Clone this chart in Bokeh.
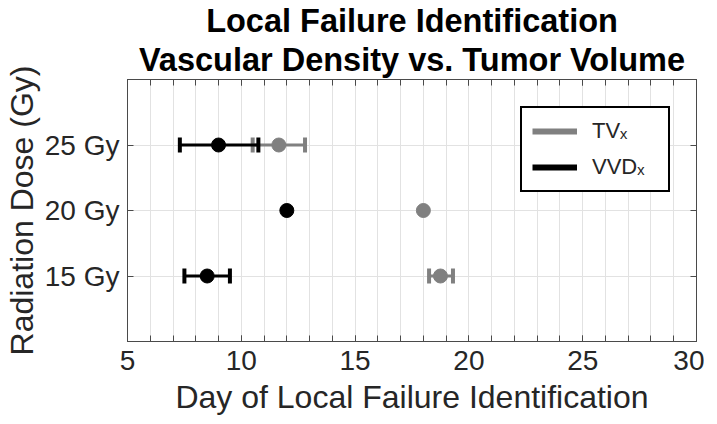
from bokeh.plotting import figure
from bokeh.models import (Range1d, FixedTicker, LinearAxis, Whisker, ColumnDataSource,
                          Legend, LegendItem, TeeHead, Title)
from bokeh.embed import file_html
from bokeh.resources import INLINE

# ---- data ----
doses = ["15 Gy", "20 Gy", "25 Gy"]
dose_pos = [1, 2, 3]
tv_mean = [18.75, 18.0, 11.65]
tv_low = [18.25, None, 10.5]
tv_high = [19.3, None, 12.8]
vvd_mean = [8.5, 12.0, 9.0]
vvd_low = [7.5, None, 7.3]
vvd_high = [9.5, None, 10.75]
x_major_ticks = [5, 10, 15, 20, 25, 30]
x_minor_ticks = list(range(5, 31))
title_lines = ["Local Failure Identification", "Vascular Density vs. Tumor Volume"]

FONT = "Liberation Sans"
TXT = "#262626"
AX = "#4a4a4a"
GRID = "#e2e2e2"
GRAY = "#808080"
BLACK = "#000000"
NAN = float("nan")


def rows(low, high):
    keep = [i for i in range(len(low)) if low[i] is not None]
    return dict(pos=[dose_pos[i] for i in keep], low=[low[i] for i in keep],
                high=[high[i] for i in keep])


p = figure(frame_width=569, frame_height=262, x_range=Range1d(5, 30), y_range=Range1d(0, 4),
           output_backend="svg", toolbar_location=None, title=None,
           min_border_left=119, min_border_right=8, min_border_top=72, min_border_bottom=0)

p.outline_line_color = AX
p.outline_line_width = 1
p.outline_line_alpha = 1
p.background_fill_color = "white"
p.border_fill_color = "white"

xt = FixedTicker(ticks=x_major_ticks, minor_ticks=x_minor_ticks)
yt = FixedTicker(ticks=dose_pos, minor_ticks=[])

xa = p.xaxis[0]
xa.ticker = xt
xa.axis_label = "Day of Local Failure Identification"
xa.axis_label_text_font = FONT
xa.axis_label_text_font_size = "32px"
xa.axis_label_text_font_style = "normal"
xa.axis_label_text_color = TXT
xa.axis_label_standoff = 6
xa.major_label_text_font = FONT
xa.major_label_text_font_size = "28px"
xa.major_label_text_color = TXT
xa.major_label_standoff = 9
xa.axis_line_color = AX
xa.major_tick_line_color = AX
xa.minor_tick_line_color = AX
xa.major_tick_in = 6
xa.major_tick_out = 0
xa.minor_tick_in = 6
xa.minor_tick_out = 0

ya = p.yaxis[0]
ya.ticker = yt
ya.major_label_overrides = {k: v for k, v in zip(dose_pos, doses)}
ya.axis_label = "Radiation Dose (Gy)"
ya.axis_label_text_font = FONT
ya.axis_label_text_font_size = "32px"
ya.axis_label_text_font_style = "normal"
ya.axis_label_text_color = TXT
ya.axis_label_standoff = 2
ya.major_label_text_font = FONT
ya.major_label_text_font_size = "28px"
ya.major_label_text_color = TXT
ya.major_label_standoff = 8
ya.axis_line_color = AX
ya.major_tick_line_color = AX
ya.major_tick_in = 6
ya.major_tick_out = 0
ya.minor_tick_line_color = None

top = LinearAxis(ticker=xt, major_label_overrides={t: "" for t in x_major_ticks},
                 major_label_text_font_size="1px", major_label_standoff=0,
                 axis_line_color=AX, major_tick_line_color=AX, minor_tick_line_color=AX,
                 major_tick_in=6, major_tick_out=0, minor_tick_in=6, minor_tick_out=0)
p.add_layout(top, "above")
right = LinearAxis(ticker=yt, major_label_overrides={t: "" for t in dose_pos},
                   major_label_text_font_size="1px", major_label_standoff=0,
                   axis_line_color=AX, major_tick_line_color=AX, minor_tick_line_color=None,
                   major_tick_in=6, major_tick_out=0)
p.add_layout(right, "right")

for i, line in enumerate(reversed(title_lines)):
    p.add_layout(Title(text=line, align="center", text_font=FONT, text_font_size="32.5px",
                       text_font_style="bold", text_color="#000000",
                       standoff=3 if i == 0 else 0, offset=0), "above")

p.xgrid.ticker = xt
p.xgrid.grid_line_color = GRID
p.xgrid.minor_grid_line_color = GRID
p.ygrid.ticker = yt
p.ygrid.grid_line_color = GRID

# ---- TV series ----
tv_src = ColumnDataSource(dict(pos=dose_pos, mean=tv_mean))
tv_w = ColumnDataSource(rows(tv_low, tv_high))
p.add_layout(Whisker(source=tv_w, base="pos", lower="low", upper="high", dimension="width",
                     line_color=GRAY, line_width=3,
                     upper_head=TeeHead(size=15, line_color=GRAY, line_width=4),
                     lower_head=TeeHead(size=15, line_color=GRAY, line_width=4)))
p.scatter(x="mean", y="pos", source=tv_src, size=14, color=GRAY)

# ---- VVD series ----
vvd_src = ColumnDataSource(dict(pos=dose_pos, mean=vvd_mean))
vvd_w = ColumnDataSource(rows(vvd_low, vvd_high))
p.add_layout(Whisker(source=vvd_w, base="pos", lower="low", upper="high", dimension="width",
                     line_color=BLACK, line_width=3,
                     upper_head=TeeHead(size=15, line_color=BLACK, line_width=4),
                     lower_head=TeeHead(size=15, line_color=BLACK, line_width=4)))
p.scatter(x="mean", y="pos", source=vvd_src, size=14, color=BLACK)

# ---- legend ----
tv_leg = p.line(x=[NAN], y=[NAN], line_color=GRAY, line_width=6)
vvd_leg = p.line(x=[NAN], y=[NAN], line_color=BLACK, line_width=6)
legend = Legend(items=[LegendItem(label="TV\u2093", renderers=[tv_leg]),
                       LegendItem(label="VVD\u2093", renderers=[vvd_leg])],
                location=(393, 149), orientation="vertical",
                border_line_color="black", border_line_width=2, border_line_alpha=1,
                background_fill_color="white", background_fill_alpha=1,
                padding=10, spacing=10, glyph_width=45, glyph_height=24,
                label_height=24, label_width=66, label_standoff=15,
                label_text_font=FONT, label_text_font_size="22px", label_text_color=TXT,
                margin=0)
p.add_layout(legend, "center")

open("out.html", "w").write(file_html(p, INLINE))
